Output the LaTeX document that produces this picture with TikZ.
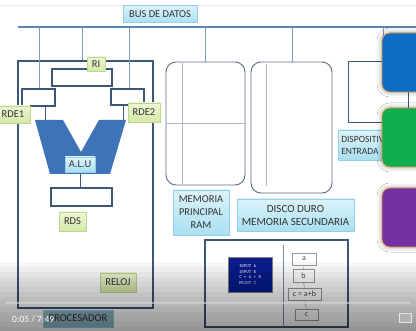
\documentclass[tikz,border=0pt]{standalone}
\usepackage{fontspec}
\setmainfont{Carlito}
\usetikzlibrary{shadows.blur}
\definecolor{busblue}{HTML}{5B83BA}
\definecolor{dropblue}{HTML}{7A9AC6}
\definecolor{frame}{HTML}{3E5678}
\definecolor{alublue}{HTML}{3E73B7}
\definecolor{grnA}{HTML}{EEF6D6}
\definecolor{grnB}{HTML}{D5E8A6}
\definecolor{grnD}{HTML}{BCD88E}
\definecolor{cyA}{HTML}{DDF3FA}
\definecolor{cyB}{HTML}{A9DFF1}
\definecolor{cyD}{HTML}{93CFE6}
\definecolor{memframe}{HTML}{5E6C86}
\definecolor{thincol}{HTML}{A8B6CC}
\definecolor{boxblue}{HTML}{0D6DC4}
\definecolor{boxgreen}{HTML}{0FAD4D}
\definecolor{boxpurple}{HTML}{7131A1}
\definecolor{boxedge}{HTML}{E89540}
\definecolor{navy}{HTML}{0B1B8C}
\tikzset{
  grnlbl/.style={draw=grnD, top color=grnA, bottom color=grnB, inner sep=1pt,
    font=\fontsize{10.5}{11}\selectfont, text=black!80, line width=0.5pt},
  cylbl/.style={draw=cyD, top color=cyA, bottom color=cyB, inner sep=1pt,
    font=\fontsize{10.5}{12.5}\selectfont, text=black!80, align=center, line width=0.5pt},
  regbox/.style={draw=frame, line width=1.1pt, fill=white},
  membox/.style={draw=memframe, line width=0.9pt, rounded corners=10pt, fill=white},
  drop/.style={dropblue, line width=0.9pt},
  thinline/.style={draw=thincol, line width=0.5pt},
  colbox/.style={draw=boxedge, line width=0.8pt, rounded corners=8pt,
    blur shadow={shadow xshift=0pt, shadow yshift=0pt, shadow blur radius=5pt, shadow opacity=40}},
  flowbox/.style={draw=black!40, fill=white, line width=0.6pt, inner sep=1pt,
    font=\fontsize{8}{8.5}\selectfont, text=black!70},
}
\begin{document}
\begin{tikzpicture}[x=1pt,y=-1pt]
\useasboundingbox (0,0) rectangle (416,331);
\clip (0,0) rectangle (416,331);
\fill[white] (0,0) rectangle (416,331);
\draw[black!8, line width=0.5pt] (0,5) -- (416,5);

% bus
\coordinate (busL) at (18,27);
\coordinate (busR) at (416,27);
\draw[busblue, line width=1.8pt] (busL) -- (busR);
\node[cylbl, minimum width=74, minimum height=17] (bus) at (160,14) {BUS DE DATOS};

% processor
\node[draw=frame, line width=1.2pt, minimum width=135, minimum height=247, inner sep=0pt] (proc) at (85.5,184.5) {};
\coordinate (b1) at (39,27);
\coordinate (b2) at (82,27);
\coordinate (b3) at (129,27);
\coordinate (b4) at (205,27);
\coordinate (b5) at (292,27);
\coordinate (b6) at (383,27);

\node[regbox, minimum width=60, minimum height=17, inner sep=0pt] (ribox) at (82,77.5) {};
\node[regbox, minimum width=33, minimum height=17, inner sep=0pt] (rde1box) at (38.5,97.5) {};
\node[regbox, minimum width=33, minimum height=16, inner sep=0pt] (rde2box) at (127.5,97) {};
\draw[drop] (b1) -- (b1 |- rde1box.north);
\draw[drop] (b2) -- (b2 |- proc.north);
\draw[drop] (b3) -- (b3 |- rde2box.north);

% ALU
\coordinate (alutopL) at (45,120);
\coordinate (alutopR) at (123,120);
\coordinate (alubot) at (80,174);
\draw[frame, line width=0.8pt] (rde1box.south -| alutopL) -- (alutopL);
\draw[frame, line width=0.8pt] (rde2box.south -| alutopR) -- (alutopR);
\fill[alublue] (35,120) -- (63,120) -- (81,152) -- (99,120) -- (126,120) -- (110,174) -- (50,174) -- cycle;
\node[cylbl, minimum width=30, minimum height=15] (alu) at (80,164.5) {A.L.U};
\node[regbox, minimum width=61, minimum height=18, inner sep=0pt] (rdsbox) at (81.5,197) {};
\draw[frame, line width=0.8pt] (alubot) -- (alubot |- rdsbox.north);

\node[grnlbl, minimum width=18, minimum height=14] (ri) at (96,64) {RI};
\node[grnlbl, minimum width=34, minimum height=17] (rde1) at (13,114.5) {RDE1};
\node[grnlbl, minimum width=32, minimum height=19] (rde2) at (144,112.5) {RDE2};
\node[grnlbl, minimum width=27, minimum height=19] (rds) at (72.5,221.5) {RDS};
\node[grnlbl, minimum width=36, minimum height=19] (reloj) at (118,282.5) {RELOJ};

% memories
\node[membox, minimum width=79, minimum height=123, inner sep=0pt] (ram) at (205.5,123.5) {};
\draw[thinline] (182,63) -- (182,184);
\draw[thinline] (ram.west |- 0,123) -- (ram.east |- 0,123);
\draw[drop] (b4) -- (b4 |- ram.north);
\node[membox, minimum width=81, minimum height=131, inner sep=0pt] (disco) at (291.5,127.5) {};
\draw[thinline] (266,64) -- (266,186);
\draw[drop] (b5) -- (b5 |- disco.north);
\node[cylbl, minimum width=56, minimum height=45, font=\fontsize{10.5}{13}\selectfont] (ramlbl) at (201,212.5) {MEMORIA\\PRINCIPAL\\RAM};
\node[cylbl, minimum width=117, minimum height=32, font=\fontsize{11}{13}\selectfont] (discolbl) at (295.5,215) {DISCO DURO\\MEMORIA SECUNDARIA};

% dispositivos
\node[draw=frame, line width=1pt, minimum width=60, minimum height=61, inner sep=0pt] (dispbox) at (378,92.5) {};
\node[cylbl, anchor=west, align=left, minimum height=30, inner xsep=3pt, font=\fontsize{9.5}{12}\selectfont] (displbl) at (338,145) {DISPOSITIVOS DE\\ENTRADA};
\draw[drop] (b6) -- (383,40);

% coloured boxes
\node[colbox, fill=boxblue, minimum width=60, minimum height=59, inner sep=0pt] (blue) at (412,62.5) {};
\node[colbox, fill=boxgreen, minimum width=60, minimum height=59, inner sep=0pt] (green) at (412,137.5) {};
\node[colbox, fill=boxpurple, minimum width=60, minimum height=59, inner sep=0pt] (purple) at (412,217.5) {};

% program box
\node[draw=frame, line width=1.2pt, minimum width=143, minimum height=87, inner sep=0pt] (prog) at (276.5,283.5) {};
\draw[frame!70, line width=0.7pt] (283,245) -- (283 ,327);
\node[fill=navy, draw=black!50, line width=0.4pt, minimum width=44, minimum height=35, inner sep=1pt,
  text=white, align=left, font=\ttfamily\fontsize{4.6}{5.4}\selectfont] (code) at (250,274.5) {INPUT A\\INPUT B\\C = A + B\\PRINT C};
\node[flowbox, minimum width=24, minimum height=12] (fa) at (304,259) {a};
\node[flowbox, minimum width=21, minimum height=13] (fb) at (303.5,276) {b};
\node[flowbox, minimum width=33, minimum height=12] (fc) at (304.5,294) {c = a+b};
\node[flowbox, minimum width=23, minimum height=11] (fd) at (306.5,315) {c};
\draw[black!35, line width=0.5pt] (fa.south) -- (fb.north);
\draw[black!35, line width=0.5pt] (fb.south) -- (fc.north);
\draw[black!35, line width=0.5pt] (fc.south) -- (fd.north);

\node[fill=cyB!80!black!90, draw=cyD, minimum width=70, minimum height=17, inner sep=1pt,
  font=\fontsize{10.5}{11}\selectfont, text=black!80] (proclbl) at (78,318.5) {PROCESADOR};

% video overlay (darkening towards the bottom)
\foreach \k in {0,...,13} {
  \fill[black, opacity=0.035] (0,{262+5*\k}) rectangle (416,331);
}
\draw[white!85!black, opacity=0.6, line width=1.2pt] (5,303) -- (411,303);
\node[text=white, anchor=west, inner sep=0pt, font=\fontsize{9.5}{10}\selectfont] (time) at (12,319) {0:05 / 7:49};
\node[draw=white!90!black, fill=white!70!black, minimum width=12, minimum height=9, inner sep=0pt] (icon) at (405,318) {};
\end{tikzpicture}
\end{document}
